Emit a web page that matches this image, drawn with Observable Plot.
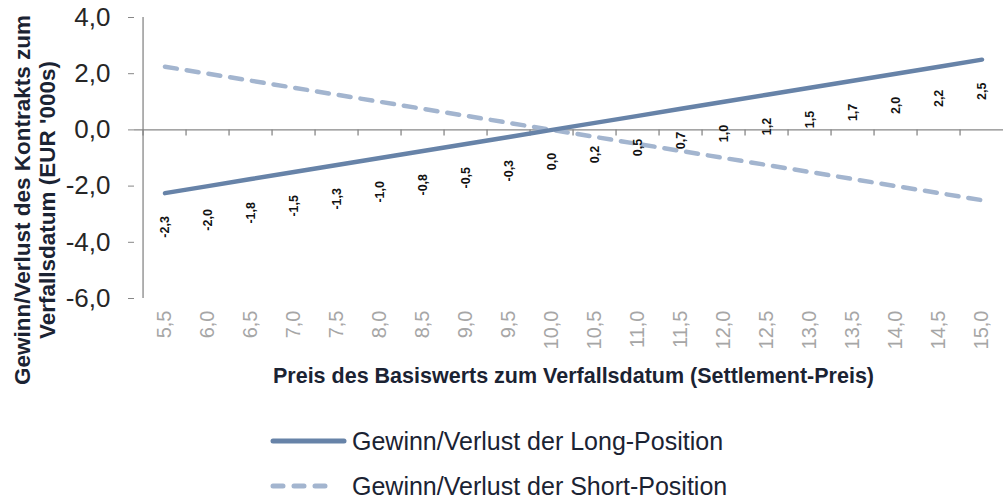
<!DOCTYPE html>
<html>
<head>
<meta charset="utf-8">
<script src="https://cdn.jsdelivr.net/npm/d3@7"></script>
<script src="https://cdn.jsdelivr.net/npm/@observablehq/plot@0.6"></script>
<style>
  body { margin: 0; background: #fff; font-family: "Liberation Sans", Arial, sans-serif; }
  #wrap { position: relative; width: 1003px; height: 499px; }
  .leg { position: absolute; left: 269px; display: flex; align-items: center; font-size: 25px; line-height: 24px; color: #1b2333; white-space: nowrap; height: 24px; }
  .leg svg { margin-right: 5px; }
</style>
</head>
<body>
<div id="wrap">
  <div id="chart"></div>
  <div class="leg" style="top:429px"><svg width="78" height="10"><line x1="4" y1="5" x2="75" y2="5" stroke="#6783a8" stroke-width="5" stroke-linecap="round"/></svg><span>Gewinn/Verlust der Long-Position</span></div>
  <div class="leg" style="top:474px"><svg width="78" height="10"><line x1="4" y1="5" x2="63" y2="5" stroke="#a3b5cf" stroke-width="5" stroke-linecap="round" stroke-dasharray="10,11"/></svg><span>Gewinn/Verlust der Short-Position</span></div>
</div>
<script>
const prices = ["5,5","6,0","6,5","7,0","7,5","8,0","8,5","9,0","9,5","10,0","10,5","11,0","11,5","12,0","12,5","13,0","13,5","14,0","14,5","15,0"];
const longPL = [-2.25,-2.0,-1.75,-1.5,-1.25,-1.0,-0.75,-0.5,-0.25,0.0,0.25,0.5,0.75,1.0,1.25,1.5,1.75,2.0,2.25,2.5];
const shortPL = [2.25,2.0,1.75,1.5,1.25,1.0,0.75,0.5,0.25,0.0,-0.25,-0.5,-0.75,-1.0,-1.25,-1.5,-1.75,-2.0,-2.25,-2.5];
const longLabels = ["-2,3","-2,0","-1,8","-1,5","-1,3","-1,0","-0,8","-0,5","-0,3","0,0","0,2","0,5","0,7","1,0","1,2","1,5","1,7","2,0","2,2","2,5"];
const yTicks = [-6, -4, -2, 0, 2, 4];
const yTitle1 = "Gewinn/Verlust des Kontrakts zum";
const yTitle2 = "Verfallsdatum (EUR '000s)";
const xTitle = "Preis des Basiswerts zum Verfallsdatum (Settlement-Preis)";

const data = prices.map((p, i) => ({p, long: longPL[i], short: shortPL[i], label: longLabels[i]}));
const fmt = d => d.toFixed(1).replace(".", ",");

const W = 1003, H = 410, ML = 134, MR = -9, MT = 17, MB = 112;
const bw = (W - MR - ML) / prices.length;
const axisGray = "#878787";
const titleColor = "#1b2333";

const chart = Plot.plot({
  width: W, height: H,
  marginLeft: ML, marginRight: MR, marginTop: MT, marginBottom: MB,
  style: {fontFamily: "'Liberation Sans', Arial, sans-serif", background: "#fff", overflow: "visible"},
  x: {type: "band", domain: prices, padding: 0},
  y: {domain: [-6, 4]},
  marks: [
    // y axis
    Plot.axisY({ticks: yTicks, tickFormat: fmt, tickSize: 6, tickPadding: 18, fontSize: 26, stroke: axisGray, color: "#262626", label: null}),
    Plot.ruleX([prices[0]], {x: d => d, y1: -6, y2: 4, dx: -bw / 2, stroke: axisGray, strokeWidth: 1.3}),
    // x axis labels
    Plot.axisX({tickSize: 0, tickPadding: 12, tickRotate: -90, fontSize: 20, color: "#a6a6a6", label: null}),
    // zero line with ticks at band boundaries
    Plot.ruleY([0], {stroke: axisGray, strokeWidth: 1.3}),
    Plot.ruleX(prices, {x: d => d, y1: 0, y2: 0, insetBottom: -6, dx: -bw / 2, stroke: axisGray, strokeWidth: 1.3}),
    // series
    Plot.line(data, {x: "p", y: "short", stroke: "#a3b5cf", strokeWidth: 4.5, strokeDasharray: "12,10", strokeLinecap: "round"}),
    Plot.line(data, {x: "p", y: "long", stroke: "#6783a8", strokeWidth: 4.5, strokeLinecap: "round"}),
    // data labels
    Plot.text(data, {x: "p", y: "long", text: "label", rotate: -90, textAnchor: "end", dy: 23, fontSize: 12.5, fontWeight: "bold", fill: "#111"}),
    // titles
    Plot.text([xTitle], {text: d => d, frameAnchor: "bottom", lineAnchor: "middle", dy: 78, fontSize: 21.5, fontWeight: "bold", fill: titleColor}),
    Plot.text([yTitle1], {text: d => d, frameAnchor: "left", textAnchor: "middle", lineAnchor: "middle", rotate: -90, dx: -112, dy: 42, fontSize: 22.5, fontWeight: "bold", fill: titleColor}),
    Plot.text([yTitle2], {text: d => d, frameAnchor: "left", textAnchor: "middle", lineAnchor: "middle", rotate: -90, dx: -87, dy: 42, fontSize: 22.5, fontWeight: "bold", fill: titleColor})
  ]
});
document.getElementById("chart").appendChild(chart);
</script>
</body>
</html>
